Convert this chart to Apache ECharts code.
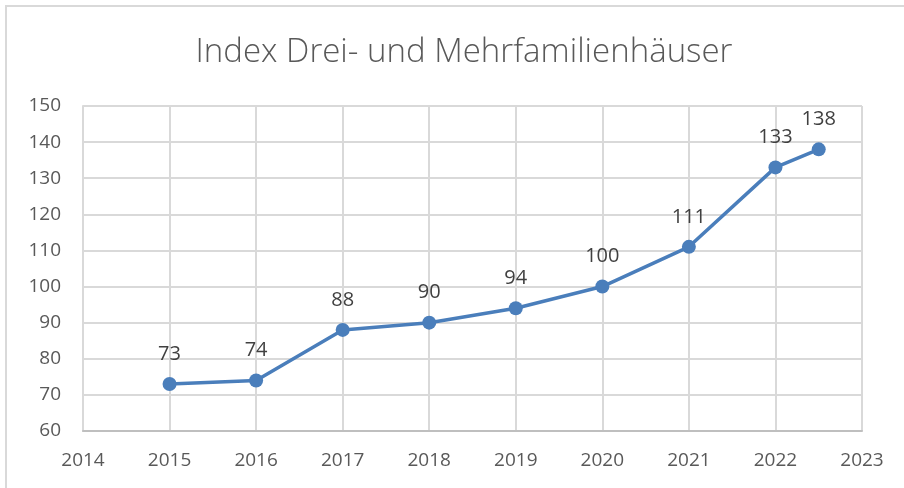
<!DOCTYPE html>
<html>
<head>
<meta charset="utf-8">
<script src="https://cdn.jsdelivr.net/npm/echarts@6/dist/echarts.min.js"></script>
<style>
  html, body { margin: 0; padding: 0; background: #fff; }
  #main { width: 904px; height: 488px; }
</style>
</head>
<body>
<div id="main"></div>
<script>
// Index Drei- und Mehrfamilienhäuser
var titleText = "Index Drei- und Mehrfamilienhäuser";
var years = [2015, 2016, 2017, 2018, 2019, 2020, 2021, 2022, 2022.5];
var indexValues = [73, 74, 88, 90, 94, 100, 111, 133, 138];

var myChart = echarts.init(document.getElementById("main"));

var points = years.map(function (y, i) { return [y, indexValues[i]]; });

var option = {
    backgroundColor: "#fff",
    animation: false,
    title: {
        text: titleText,
        left: 459,
        textAlign: "center",
        top: 31,
        textStyle: {
            fontFamily: "Open Sans",
            fontWeight: 300,
            fontSize: 33,
            color: "#595959"
        }
    },
    graphic: [{
        type: "rect",
        shape: { x: 6, y: 6, width: 910, height: 500 },
        style: { fill: "none", stroke: "#d9d9d9", lineWidth: 2 },
        silent: true
    }],
    grid: { left: 83, right: 42, top: 106, bottom: 57 },
    xAxis: {
        type: "value",
        min: 2014,
        max: 2023,
        interval: 1,
        axisLine: { lineStyle: { color: "#bfbfbf", width: 2 } },
        axisTick: { show: false },
        splitLine: { lineStyle: { color: "#d9d9d9", width: 2 } },
        axisLabel: {
            color: "#595959",
            fontSize: 19,
            fontFamily: "Open Sans",
            margin: 20,
            formatter: function (v) { return String(v); }
        }
    },
    yAxis: {
        type: "value",
        min: 60,
        max: 150,
        interval: 10,
        axisLine: { show: true, lineStyle: { color: "#d9d9d9", width: 2 } },
        axisTick: { show: false },
        splitLine: { lineStyle: { color: "#d9d9d9", width: 2 } },
        axisLabel: {
            color: "#595959",
            fontSize: 19,
            fontFamily: "Open Sans",
            margin: 22
        }
    },
    series: [{
        type: "line",
        data: points,
        symbol: "circle",
        symbolSize: 14,
        lineStyle: { color: "#4a7ebb", width: 3.5 },
        itemStyle: { color: "#4a7ebb" },
        label: {
            show: true,
            position: "top",
            distance: 13,
            color: "#404040",
            fontSize: 20,
            fontFamily: "Open Sans",
            formatter: function (p) { return p.value[1]; }
        }
    }]
};

myChart.setOption(option);
</script>
</body>
</html>
